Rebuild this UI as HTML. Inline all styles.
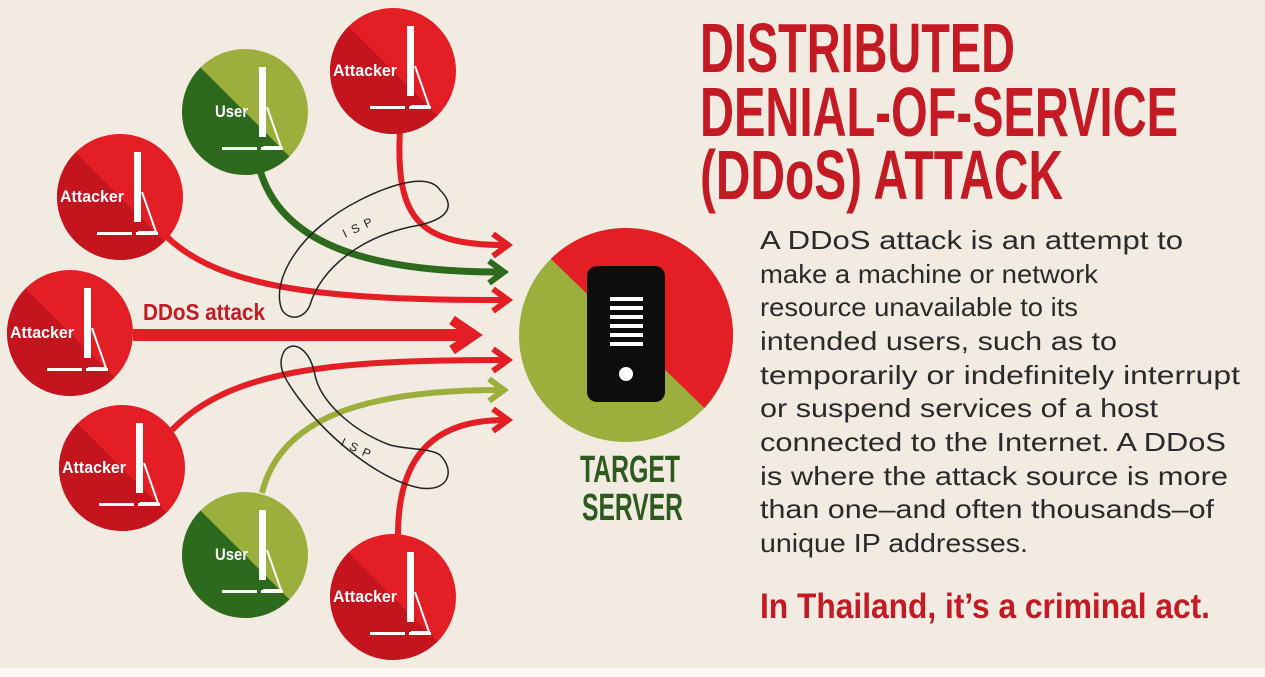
<!DOCTYPE html>
<html><head><meta charset="utf-8"><style>
html,body{margin:0;padding:0;background:#f2ebe2;}
body{width:1265px;height:677px;overflow:hidden;position:relative;}
</style></head><body>
<svg width="1265" height="677" style="position:absolute;left:0;top:0" font-family="Liberation Sans,sans-serif">
<defs>
<clipPath id="c"><circle cx="0" cy="0" r="63"/></clipPath>
<g id="pc">
<rect x="14" y="-45" width="7" height="70" fill="#fff"/>
<path d="M22,-5 L36,35 L18,35" fill="none" stroke="#fff" stroke-width="2"/>
<rect x="-23" y="35" width="35" height="3" fill="#fff"/>
<rect x="16" y="35" width="22" height="3" fill="#fff"/>
</g>
<g id="atk">
<circle r="63" fill="#e31e25"/>
<polygon points="-63,-63 63,63 -63,63" fill="#c4141d" clip-path="url(#c)"/>
<use href="#pc"/>
<text x="-60" y="5" fill="#fff" font-weight="bold" font-size="17" textLength="64" lengthAdjust="spacingAndGlyphs">Attacker</text>
</g>
<g id="usr">
<circle r="63" fill="#9caf3c"/>
<polygon points="-63,-63 63,63 -63,63" fill="#2e6a1e" clip-path="url(#c)"/>
<use href="#pc"/>
<text x="-30" y="5" fill="#fff" font-weight="bold" font-size="17" textLength="33" lengthAdjust="spacingAndGlyphs">User</text>
</g>
<clipPath id="sc"><circle cx="626" cy="335" r="107"/></clipPath>
</defs>
<g fill="none" stroke-linecap="butt">
<path d="M400,130 C395,220 420,245 505,245" stroke="#e31e25" stroke-width="6"/>
<path d="M260,170 C280,240 360,272 500,272" stroke="#2e6a1e" stroke-width="7"/>
<path d="M165,235 C220,290 330,300 505,300" stroke="#e31e25" stroke-width="6"/>
<path d="M133,335 L465,335" stroke="#e31e25" stroke-width="12"/>
<path d="M172,430 C230,370 330,360 505,360" stroke="#e31e25" stroke-width="6"/>
<path d="M262,493 C280,420 360,390 500,390" stroke="#9caf3c" stroke-width="6"/>
<path d="M398,535 C398,460 430,420 505,420" stroke="#e31e25" stroke-width="6"/>
</g>
<g fill="none" stroke-width="6" stroke-linejoin="miter">
<path d="M493,234 L508,245 L493,256" stroke="#e31e25"/>
<path d="M489,261 L504,272 L489,283" stroke="#2e6a1e"/>
<path d="M493,289 L508,300 L493,311" stroke="#e31e25"/>
<path d="M452,320 L474,335 L452,350" stroke="#e31e25" stroke-width="10"/>
<path d="M493,349 L508,360 L493,371" stroke="#e31e25"/>
<path d="M489,379 L504,390 L489,401" stroke="#9caf3c"/>
<path d="M493,409 L508,420 L493,431" stroke="#e31e25"/>
</g>
<g fill="none" stroke="#222" stroke-width="1.5">
<path d="M440,190 C430,175 400,180 360,200 C300,230 270,280 282,310 C290,322 305,318 310,305 C320,270 360,235 420,225 C450,218 455,205 440,190 Z"/>
<path d="M285,350 C275,365 285,380 300,400 C330,440 380,480 420,488 C450,492 455,470 440,455 C430,448 410,450 390,445 C350,430 320,400 315,375 C310,350 295,340 285,350 Z"/>
</g>
<text x="345" y="238" font-size="12" letter-spacing="6" transform="rotate(-25 345 238)" fill="#222">ISP</text>
<text x="340" y="445" font-size="12" letter-spacing="6" transform="rotate(25 340 445)" fill="#222">ISP</text>
<use href="#atk" x="393" y="71"/>
<use href="#usr" x="245" y="112"/>
<use href="#atk" x="120" y="197"/>
<use href="#atk" x="70" y="333"/>
<use href="#atk" x="122" y="468"/>
<use href="#usr" x="245" y="555"/>
<use href="#atk" x="393" y="597"/>
<text x="143" y="320" fill="#c41a24" font-weight="bold" font-size="23" textLength="122" lengthAdjust="spacingAndGlyphs">DDoS attack</text>
<circle cx="626" cy="335" r="107" fill="#9caf3c"/>
<polygon points="480,190 760,462 760,190" fill="#e31e25" clip-path="url(#sc)"/>
<rect x="587" y="266" width="78" height="136" rx="10" fill="#0d0d0d"/>
<g fill="#fff"><rect x="610" y="297" width="33" height="4"/><rect x="610" y="306" width="33" height="4"/><rect x="610" y="315" width="33" height="4"/><rect x="610" y="324" width="33" height="4"/><rect x="610" y="333" width="33" height="4"/><rect x="610" y="342" width="33" height="4"/></g>
<circle cx="626" cy="374" r="7" fill="#fff"/>
<g fill="#2e5a1e" font-weight="bold" font-size="38">
<text x="580" y="482" textLength="100" lengthAdjust="spacingAndGlyphs">TARGET</text>
<text x="582" y="520" textLength="101" lengthAdjust="spacingAndGlyphs">SERVER</text>
</g>
<g fill="#c41a24" font-weight="bold" font-size="70">
<text x="700" y="72" textLength="315" lengthAdjust="spacingAndGlyphs">DISTRIBUTED</text>
<text x="700" y="136" textLength="478" lengthAdjust="spacingAndGlyphs">DENIAL-OF-SERVICE</text>
<text x="700" y="199" textLength="363" lengthAdjust="spacingAndGlyphs">(DDoS) ATTACK</text>
</g>
<g fill="#2a2a2a" font-size="26">
<text x="760" y="249" textLength="423" lengthAdjust="spacingAndGlyphs">A DDoS attack is an attempt to</text>
<text x="760" y="283" textLength="338" lengthAdjust="spacingAndGlyphs">make a machine or network</text>
<text x="760" y="316" textLength="318" lengthAdjust="spacingAndGlyphs">resource unavailable to its</text>
<text x="760" y="350" textLength="357" lengthAdjust="spacingAndGlyphs">intended users, such as to</text>
<text x="760" y="384" textLength="480" lengthAdjust="spacingAndGlyphs">temporarily or indefinitely interrupt</text>
<text x="760" y="417" textLength="398" lengthAdjust="spacingAndGlyphs">or suspend services of a host</text>
<text x="760" y="451" textLength="466" lengthAdjust="spacingAndGlyphs">connected to the Internet. A DDoS</text>
<text x="760" y="485" textLength="468" lengthAdjust="spacingAndGlyphs">is where the attack source is more</text>
<text x="760" y="518" textLength="454" lengthAdjust="spacingAndGlyphs">than one–and often thousands–of</text>
<text x="760" y="552" textLength="268" lengthAdjust="spacingAndGlyphs">unique IP addresses.</text>
</g>
<text x="760" y="618" fill="#c41a24" font-weight="bold" font-size="35" textLength="450" lengthAdjust="spacingAndGlyphs">In Thailand, it’s a criminal act.</text>
<rect x="0" y="668" width="1265" height="9" fill="#fbfaf7"/>
</svg>
</body></html>
